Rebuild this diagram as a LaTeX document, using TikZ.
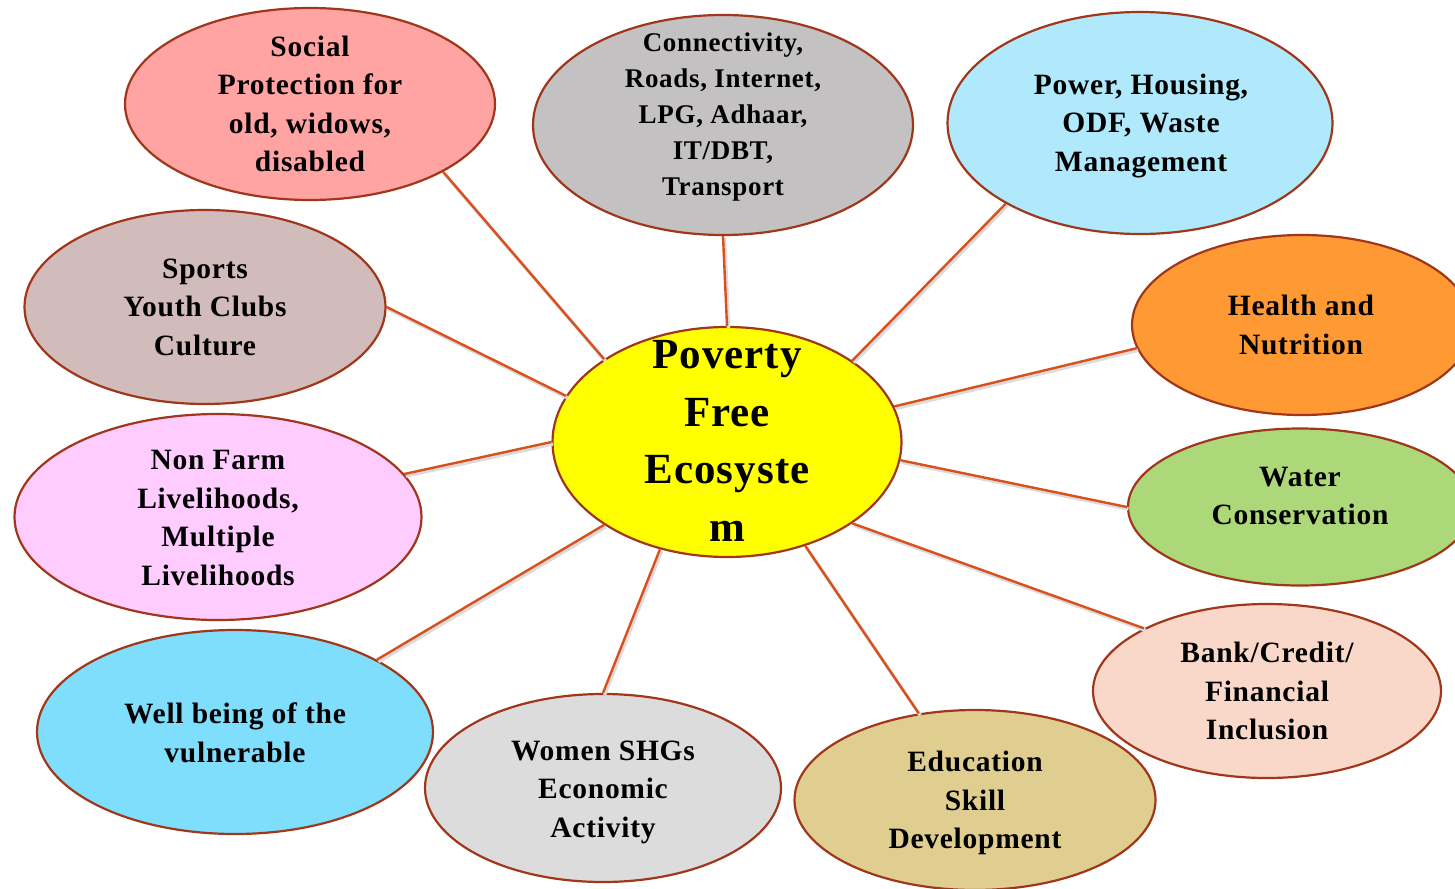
\documentclass[tikz,border=0pt]{standalone}
\usepackage{fontspec}
\setmainfont[LetterSpace=2.5]{Liberation Serif}
\usetikzlibrary{shapes.geometric}
\definecolor{rim}{HTML}{A0361A}
\definecolor{spoke}{HTML}{D9501C}
\definecolor{cSocial}{HTML}{FFA3A3}
\definecolor{cConn}{HTML}{C3C1C1}
\definecolor{cPower}{HTML}{B0E9FB}
\definecolor{cHealth}{HTML}{FF9933}
\definecolor{cWater}{HTML}{ADD87A}
\definecolor{cBank}{HTML}{F9D8CA}
\definecolor{cEdu}{HTML}{DFCE90}
\definecolor{cWomen}{HTML}{DCDCDC}
\definecolor{cWell}{HTML}{7FDEFC}
\definecolor{cFarm}{HTML}{FFCCFF}
\definecolor{cSport}{HTML}{D1BBBB}
\definecolor{cCore}{HTML}{FFFF00}
\begin{document}
\begin{tikzpicture}[x=1pt,y=-1pt,
  bubble/.style={ellipse,draw=rim,line width=2.2pt,inner sep=0pt},
  label/.style={align=center,font=\fontsize{29.5}{38.5}\selectfont\bfseries,inner sep=0pt},
  spokeline/.style={draw=spoke,line width=2.4pt,
    preaction={draw=black!14,line width=3.5pt,transform canvas={xshift=1.5pt,yshift=-2pt}}}]
\useasboundingbox (0,0) rectangle (1455,888);

% outer topics
\node[bubble,fill=cSocial,minimum width=370pt,minimum height=192pt] (soc) at (310,104) {};
\node[bubble,fill=cConn,minimum width=380pt,minimum height=220pt] (con) at (723,125) {};
\node[bubble,fill=cPower,minimum width=385pt,minimum height=222pt] (pow) at (1140,123) {};
\node[bubble,fill=cHealth,minimum width=340pt,minimum height=180pt] (hea) at (1302,325) {};
\node[bubble,fill=cWater,minimum width=344pt,minimum height=157pt] (wat) at (1300,507) {};
\node[bubble,fill=cBank,minimum width=348pt,minimum height=174pt] (ban) at (1267,691) {};
\node[bubble,fill=cEdu,minimum width=361pt,minimum height=180pt] (edu) at (975,800) {};
\node[bubble,fill=cWomen,minimum width=356pt,minimum height=188pt] (wom) at (603,788) {};
\node[bubble,fill=cWell,minimum width=396pt,minimum height=204pt] (wel) at (235,732) {};
\node[bubble,fill=cFarm,minimum width=407pt,minimum height=206pt] (far) at (218,517) {};
\node[bubble,fill=cSport,minimum width=361pt,minimum height=194pt] (spo) at (205,307) {};

% hub
\node[bubble,fill=cCore,minimum width=349pt,minimum height=230pt] (hub) at (727,442) {};

% spokes
\draw[spokeline] (soc.-27.4) -- (hub.146.7);
\draw[spokeline] (con.-90) -- (hub.90);
\draw[spokeline] (pow.-149.5) -- (hub.33.5);
\draw[spokeline] (hea.188.3) -- (hub.12.3);
\draw[spokeline] (wat.180) -- (hub.-6.6);
\draw[spokeline] (ban.153) -- (hub.-33.7);
\draw[spokeline] (edu.123.8) -- (hub.-53.6);
\draw[spokeline] (wom.90) -- (hub.-122.3);
\draw[spokeline] (wel.27) -- (hub.-146.5);
\draw[spokeline] (far.13.9) -- (hub.180);
\draw[spokeline] (spo.0) -- (hub.164.7);

% texts
\node[label] (tsoc) at (310,104) {Social\\Protection for\\old, widows,\\disabled};
\node[label,font=\fontsize{27}{36}\selectfont\bfseries] (tcon) at (723,117) {Connectivity,\\Roads, Internet,\\LPG, Adhaar,\\IT/DBT,\\Transport};
\node[label] (tpow) at (1141,126) {Power, Housing,\\ODF, Waste\\Management};
\node[label] (thea) at (1301,325) {Health and\\Nutrition};
\node[label] (twat) at (1300,496) {Water\\Conservation};
\node[label] (tban) at (1267,691) {Bank/Credit/\\Financial\\Inclusion};
\node[label] (tedu) at (975,803) {Education\\Skill\\Development};
\node[label] (twom) at (603,792) {Women SHGs\\Economic\\Activity};
\node[label] (twel) at (235,733) {Well being of the\\vulnerable};
\node[label] (tfar) at (218,518) {Non Farm\\Livelihoods,\\Multiple\\Livelihoods};
\node[label] (tspo) at (205,307) {Sports\\Youth Clubs\\Culture};
\node[label,font=\fontsize{43}{57.5}\selectfont\bfseries] (thub) at (727,441) {Poverty\\Free\\Ecosyste\\m};
\end{tikzpicture}
\end{document}
